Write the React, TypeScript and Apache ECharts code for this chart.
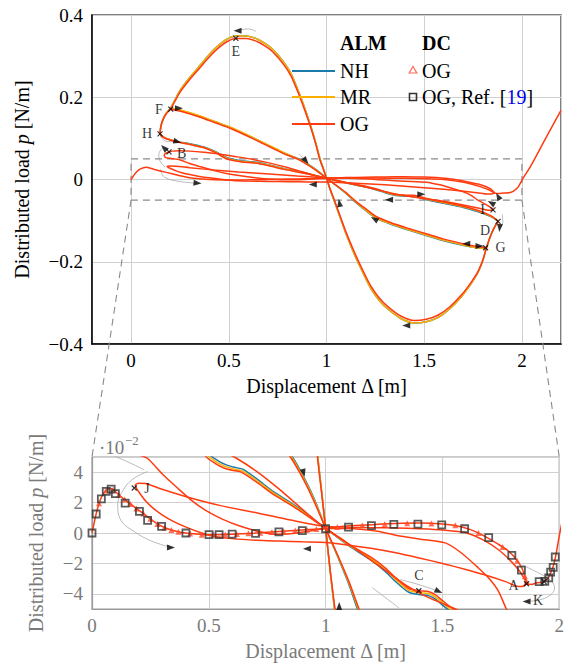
import React, { useEffect, useRef } from "react";
import * as echarts from "echarts";

const FONT = "Liberation Serif";

// ---- data: displacement Δ [m], distributed load p [N/m] ----
const primaryOG = [
  [0, 0], [0.02, 0.014], [0.04, 0.0235], [0.06, 0.028], [0.08, 0.0295], [0.1, 0.0272], [0.12, 0.0245],
  [0.14, 0.022], [0.17, 0.0185], [0.2, 0.015], [0.24, 0.0105], [0.28, 0.006], [0.32, 0.003], [0.36, 0.0012],
  [0.4, 0], [0.5, -0.0012], [0.6, -0.0008], [0.7, 0], [0.8, 0.001], [0.9, 0.002], [1.0, 0.003], [1.1, 0.0047],
  [1.2, 0.0055], [1.3, 0.0062], [1.4, 0.0065], [1.5, 0.006], [1.56, 0.0048], [1.62, 0.0022], [1.68, -0.002],
  [1.74, -0.0075], [1.78, -0.0115], [1.8, -0.0145], [1.82, -0.0182], [1.84, -0.023], [1.853, -0.0285],
  [1.862, -0.033], [1.88, -0.0338], [1.905, -0.0328], [1.935, -0.032], [1.953, -0.0295], [1.965, -0.0255],
  [1.975, -0.0215], [1.985, -0.015], [2.0, -0.002], [2.05, 0.037], [2.1, 0.081], [2.15, 0.125], [2.2, 0.168],
];

const dcOG = [
  [0.03, 0.0195], [0.06, 0.028], [0.09, 0.0285], [0.115, 0.025], [0.14, 0.022], [0.165, 0.019], [0.19, 0.0162],
  [0.22, 0.0128], [0.25, 0.0094], [0.28, 0.006], [0.31, 0.0036], [0.34, 0.002], [0.37, 0.0009], [0.42, -0.0004],
  [0.47, -0.0011], [0.52, -0.0012], [0.57, -0.001], [0.62, -0.0007], [0.67, -0.0002], [0.72, 0.0002],
  [0.77, 0.0007], [0.82, 0.0012], [0.87, 0.0017], [0.92, 0.0022], [0.96, 0.0026], [1.05, 0.004], [1.157, 0.0051],
  [1.253, 0.0059], [1.349, 0.0064], [1.453, 0.0063], [1.555, 0.0051], [1.654, 0.0], [1.758, -0.0092],
  [1.82, -0.0182], [1.853, -0.0285], [1.86, -0.032],
];

const dcRef = [
  [0, 0], [0.018, 0.0125], [0.04, 0.0224], [0.061, 0.0274], [0.082, 0.0289], [0.1, 0.0259], [0.142, 0.0197],
  [0.203, 0.0142], [0.238, 0.0083], [0.298, 0.0044], [0.402, 0.0], [0.501, -0.0011], [0.544, -0.0011],
  [0.6, -0.0007], [0.7, -0.0003], [0.8, 0.0007], [0.9, 0.0015], [1.0, 0.0028], [1.098, 0.0039], [1.196, 0.0048],
  [1.292, 0.0057], [1.395, 0.0059], [1.497, 0.0053], [1.595, 0.0028], [1.698, -0.0031], [1.797, -0.0147],
  [1.838, -0.0244], [1.914, -0.032], [1.938, -0.0318], [1.955, -0.0295], [1.963, -0.0257], [1.974, -0.0226],
  [1.983, -0.0158],
];

const loopA_OG = [
  [1.862, -0.033], [1.845, -0.035], [1.825, -0.0352], [1.77, -0.032], [1.68, -0.0275], [1.6, -0.024],
  [1.5, -0.02], [1.4, -0.0164], [1.3, -0.013], [1.2, -0.0102], [1.1, -0.008], [1.0, -0.0062], [0.9, -0.0058],
  [0.8, -0.0053], [0.707, -0.0048], [0.6, -0.0037], [0.52, -0.0022], [0.46, 0.0005], [0.4, 0.004], [0.35, 0.0075],
  [0.3, 0.012], [0.26, 0.0165], [0.23, 0.021], [0.205, 0.026], [0.19, 0.0295], [0.185, 0.0315], [0.2, 0.0328],
  [0.23, 0.0325], [0.3, 0.0288], [0.423, 0.023], [0.55, 0.018], [0.707, 0.0132], [0.85, 0.0085], [0.99, 0.0045],
  [1.1, 0.0038], [1.2, 0.0035], [1.3, 0.0033], [1.4, 0.0028], [1.5, 0.002], [1.6, 0.0002], [1.68, -0.005],
  [1.74, -0.011], [1.79, -0.018], [1.83, -0.025], [1.85, -0.03], [1.862, -0.033],
];

const loopB_OG = [
  [0.194, 0.067], [0.178, 0.064], [0.17, 0.059], [0.175, 0.054], [0.2, 0.0515], [0.238, 0.049], [0.3, 0.039],
  [0.366, 0.0296], [0.43, 0.021], [0.494, 0.0142], [0.56, 0.009], [0.636, 0.0044], [0.7, 0.0015], [0.778, -0.0008],
  [0.85, -0.0005], [0.92, 0.001], [1.0, 0.003], [1.1, 0.003], [1.222, 0.0011], [1.3, -0.0015], [1.4, -0.004],
  [1.512, -0.0065], [1.58, -0.013], [1.654, -0.023], [1.7, -0.03], [1.74, -0.0384], [1.775, -0.0504],
  [1.805, -0.058], [1.83, -0.065], [1.852, -0.073], [1.835, -0.075], [1.8, -0.072], [1.75, -0.067],
  [1.68, -0.06], [1.6, -0.053], [1.51, -0.047], [1.42, -0.041], [1.34, -0.034], [1.25, -0.024], [1.15, -0.013],
  [1.07, -0.004], [1.0, 0.003], [0.92, 0.013], [0.8, 0.029], [0.7, 0.041], [0.62, 0.049], [0.545, 0.055],
  [0.45, 0.062], [0.373, 0.066], [0.3, 0.069], [0.25, 0.07], [0.21, 0.069], [0.194, 0.067],
];

const archE_OG = [
  [0.148, 0.111], [0.152, 0.128], [0.163, 0.145], [0.18, 0.16], [0.203, 0.172], [0.25, 0.212], [0.3, 0.243],
  [0.34, 0.265], [0.4, 0.298], [0.44, 0.317], [0.49, 0.335], [0.536, 0.343], [0.59, 0.343], [0.647, 0.335],
  [0.7, 0.32], [0.732, 0.307], [0.78, 0.28], [0.818, 0.252], [0.86, 0.205], [0.886, 0.172], [0.92, 0.125],
  [0.945, 0.086], [0.965, 0.05], [0.983, 0.026], [1.0, 0.003], [1.02, -0.025], [1.04, -0.05], [1.06, -0.076],
  [1.1, -0.128], [1.143, -0.177], [1.19, -0.225], [1.228, -0.26], [1.27, -0.288], [1.314, -0.309],
  [1.38, -0.332], [1.45, -0.343], [1.51, -0.34], [1.57, -0.33], [1.63, -0.31], [1.69, -0.281], [1.74, -0.25],
  [1.775, -0.224], [1.8, -0.196], [1.817, -0.168], [1.84, -0.136], [1.86, -0.116], [1.878, -0.102],
];
const archE_MR = [
  [0.148, 0.111], [0.152, 0.128], [0.163, 0.146], [0.18, 0.161], [0.203, 0.174], [0.25, 0.216], [0.3, 0.248],
  [0.34, 0.27], [0.4, 0.304], [0.44, 0.323], [0.49, 0.341], [0.536, 0.349], [0.59, 0.349], [0.647, 0.341],
  [0.7, 0.326], [0.732, 0.313], [0.78, 0.286], [0.818, 0.258], [0.86, 0.21], [0.886, 0.177], [0.92, 0.129],
  [0.945, 0.089], [0.966, 0.051], [0.984, 0.026], [1.0, 0.003], [1.02, -0.026], [1.039, -0.051], [1.06, -0.079],
  [1.1, -0.132], [1.143, -0.182], [1.19, -0.23], [1.228, -0.266], [1.27, -0.294], [1.314, -0.315],
  [1.38, -0.338], [1.45, -0.349], [1.51, -0.346], [1.57, -0.336], [1.63, -0.315], [1.69, -0.285], [1.74, -0.253],
  [1.775, -0.226], [1.8, -0.197], [1.817, -0.169], [1.84, -0.137], [1.86, -0.116], [1.878, -0.102],
];
const archE_NH = archE_MR;

const archF_OG = [
  [0.203, 0.171], [0.254, 0.166], [0.35, 0.152], [0.43, 0.138], [0.51, 0.124], [0.62, 0.1], [0.715, 0.078],
  [0.78, 0.063], [0.849, 0.05], [0.906, 0.035], [0.95, 0.021], [1.0, 0.003],
];
const archF_MR = [
  [0.203, 0.172], [0.254, 0.169], [0.35, 0.155], [0.43, 0.141], [0.51, 0.127], [0.62, 0.103], [0.715, 0.081],
  [0.78, 0.066], [0.852, 0.0505], [0.908, 0.0355], [0.952, 0.0215], [1.0, 0.003],
];
const archF_NH = [
  [0.203, 0.172], [0.254, 0.168], [0.35, 0.154], [0.43, 0.14], [0.51, 0.126], [0.62, 0.102], [0.715, 0.08],
  [0.78, 0.065], [0.856, 0.0505], [0.911, 0.0355], [0.954, 0.0215], [1.0, 0.003],
];

const archG_OG = [
  [1.0, 0.003], [1.05, -0.014], [1.1, -0.032], [1.143, -0.05], [1.2, -0.071], [1.254, -0.09], [1.33, -0.105],
  [1.42, -0.119], [1.51, -0.132], [1.6, -0.145], [1.715, -0.158], [1.77, -0.163], [1.814, -0.166],
];
const archG_MR = [
  [1.0, 0.003], [1.05, -0.0145], [1.1, -0.033], [1.14, -0.05], [1.2, -0.074], [1.254, -0.093], [1.33, -0.108],
  [1.42, -0.122], [1.51, -0.135], [1.6, -0.148], [1.715, -0.161], [1.77, -0.166], [1.814, -0.168],
];
const archG_NH = [
  [1.0, 0.003], [1.05, -0.015], [1.1, -0.034], [1.136, -0.05], [1.2, -0.075], [1.254, -0.094], [1.33, -0.109],
  [1.42, -0.123], [1.51, -0.136], [1.6, -0.149], [1.715, -0.162], [1.77, -0.166], [1.814, -0.168],
];

const branchH_OG = [
  [0.148, 0.111], [0.158, 0.105], [0.18, 0.099], [0.237, 0.091], [0.3, 0.085], [0.373, 0.077], [0.43, 0.066],
  [0.487, 0.0504], [0.53, 0.0455], [0.565, 0.0428], [0.6, 0.0413], [0.636, 0.0402], [0.7, 0.034],
  [0.778, 0.0252], [0.85, 0.0185], [0.92, 0.0115], [1.0, 0.003],
];
const branchH_MR = [
  [0.148, 0.111], [0.158, 0.106], [0.18, 0.1], [0.237, 0.092], [0.3, 0.086], [0.373, 0.078], [0.43, 0.067],
  [0.49, 0.052], [0.535, 0.0465], [0.57, 0.0438], [0.605, 0.0422], [0.64, 0.041], [0.7, 0.0352],
  [0.778, 0.0262], [0.85, 0.0193], [0.92, 0.012], [1.0, 0.003],
];
const branchH_NH = [
  [0.148, 0.111], [0.158, 0.106], [0.18, 0.1], [0.237, 0.092], [0.3, 0.087], [0.373, 0.079], [0.43, 0.068],
  [0.495, 0.0525], [0.54, 0.0475], [0.575, 0.0448], [0.61, 0.0432], [0.645, 0.042], [0.7, 0.0362],
  [0.778, 0.027], [0.85, 0.02], [0.92, 0.0125], [1.0, 0.003],
];

const branchD_OG = [
  [1.0, 0.003], [1.1, -0.0075], [1.2, -0.0165], [1.256, -0.023], [1.3, -0.0295], [1.356, -0.0365], [1.4, -0.038],
  [1.44, -0.0385], [1.469, -0.0406], [1.5, -0.0445], [1.54, -0.0493], [1.6, -0.055], [1.7, -0.065],
  [1.78, -0.076], [1.84, -0.088], [1.865, -0.096], [1.878, -0.102],
];
const branchD_MR = [
  [1.0, 0.003], [1.1, -0.008], [1.2, -0.0175], [1.256, -0.0242], [1.3, -0.0307], [1.356, -0.0378], [1.4, -0.0392],
  [1.44, -0.0398], [1.469, -0.042], [1.5, -0.046], [1.54, -0.0508], [1.6, -0.0565], [1.7, -0.0665],
  [1.78, -0.0775], [1.84, -0.089], [1.865, -0.0965], [1.878, -0.102],
];
const branchD_NH = [
  [1.0, 0.003], [1.1, -0.0085], [1.2, -0.0185], [1.256, -0.0254], [1.3, -0.032], [1.356, -0.039], [1.4, -0.0405],
  [1.44, -0.0412], [1.469, -0.0434], [1.5, -0.0475], [1.54, -0.0522], [1.6, -0.058], [1.7, -0.068],
  [1.78, -0.079], [1.84, -0.09], [1.865, -0.097], [1.878, -0.102],
];

const zoomBox = [[0, 0.05], [2, 0.05], [2, -0.05], [0, -0.05], [0, 0.05]];

// thin grey path-direction guides
const guidesTop = [
  [[0.64, 0.36], [0.6, 0.366], [0.55, 0.363]],
  [[0.15, 0.105], [0.17, 0.095], [0.2, 0.092], [0.237, 0.092]],
  [[0.175, 0.03], [0.148, 0.045], [0.142, 0.06], [0.152, 0.072], [0.168, 0.077]],
  [[0.15, 0.025], [0.17, 0.006], [0.25, -0.005], [0.34, -0.009]],
  [[0.86, 0.062], [0.88, 0.052], [0.895, 0.045]],
  [[1.9, -0.085], [1.902, -0.105], [1.886, -0.118]],
];
const guidesBot = [
  [[0.082, 0.0515], [0.15, 0.047], [0.224, 0.0416]],
  [[0.238, 0.0405], [0.18, 0.036], [0.139, 0.0296], [0.11, 0.0186], [0.125, 0.008], [0.18, 0.001], [0.25, -0.005], [0.338, -0.0095]],
  [[1.32, -0.0307], [1.4, -0.034], [1.484, -0.0384]],
  [[1.2, -0.036], [1.26, -0.043], [1.314, -0.0493]],
  [[1.84, -0.0209], [1.92, -0.027], [1.967, -0.0318], [1.98, -0.0362], [1.94, -0.0428], [1.86, -0.045]],
];

// labelled points
const topPointNames = ["E", "F", "H", "B", "I", "D", "G"];
const topPointXY = [[0.536, 0.343], [0.203, 0.171], [0.148, 0.111], [0.194, 0.067], [1.852, -0.074], [1.878, -0.102], [1.814, -0.166]];
const botPointNames = ["J", "C", "A", "K"];
const botPointXY = [[0.181, 0.0296], [1.399, -0.038], [1.86, -0.0334], [1.935, -0.032]];
const labelPos: Record<string, any> = {
  E: ["bottom", [0, -2]], F: ["left", [0, 0]], H: ["left", [0, 0]], B: ["right", [0, 2]], I: ["left", [0, 0]],
  D: ["left", [0, 9]], G: ["right", [2, 0]], J: ["right", [2, 0]], C: ["top", [0, 0]], A: ["left", [0, 2]],
  K: ["bottom", [-6, 4]],
};

// arrowheads: [Δ, p] and direction (deg)
const arrowsTop = [
  [0.545, 0.362], [0.245, 0.173], [0.237, 0.092], [0.168, 0.077], [0.34, -0.009], [0.895, 0.045], [0.93, -0.012],
  [1.32, -0.049], [1.485, -0.036], [1.066, -0.057], [1.245, -0.096], [1.715, -0.156], [1.783, -0.162],
  [1.843, -0.057], [1.878, -0.041], [1.886, -0.118], [1.408, -0.355],
];
const arrowsTopDir = [90, -90, -105, 45, -95, -140, 90, 90, -90, 10, 60, 90, -90, 60, 30, 175, 90];
const arrowsBot = [[0.338, -0.0095], [0.906, 0.0395], [0.92, -0.0103], [1.484, -0.0384], [1.86, -0.045], [1.058, -0.048]];
const arrowsBotDir = [-90, -165, 90, -115, 90, 0];

const COL: Record<string, string> = { NH: "#1a7aaa", MR: "#fbb000", OG: "#ff3b0f" };
const curveSets = [
  { model: "NH", curves: [archE_NH, archF_NH, archG_NH, branchH_NH, branchD_NH] },
  { model: "MR", curves: [archE_MR, archF_MR, archG_MR, branchH_MR, branchD_MR] },
  { model: "OG", curves: [primaryOG, loopA_OG, loopB_OG, archE_OG, archF_OG, archG_OG, branchH_OG, branchD_OG] },
];

const fmt = (v: number) => {
  const r = Math.round(v * 1000) / 1000;
  return r < 0 ? "\u2212" + String(Math.abs(r)) : String(r);
};

export default function App() {
  const ref = useRef<HTMLDivElement>(null);
  useEffect(() => {
    const chart = echarts.init(ref.current!, null, { renderer: "svg" });
    const scaleOf = [1, 100];
    const series: any[] = [];
    [0, 1].forEach((g) => {
      const k = scaleOf[g];
      const guides = g === 0 ? guidesTop : guidesBot;
      guides.forEach((c) =>
        series.push({
          type: "line", xAxisIndex: g, yAxisIndex: g, data: c.map(([x, y]) => [x, y * k]),
          showSymbol: false, symbol: "none", smooth: 0.4, silent: true, z: 1,
          lineStyle: { color: "#a8a8a8", width: 0.8 },
        })
      );
      curveSets.forEach((set) =>
        set.curves.forEach((c) =>
          series.push({
            type: "line", xAxisIndex: g, yAxisIndex: g, data: c.map(([x, y]) => [x, y * k]),
            showSymbol: false, symbol: "none", smooth: 0.25, silent: true, z: 2,
            lineStyle: { color: COL[set.model], width: 1.5 },
          })
        )
      );
      const pts = g === 0 ? topPointXY : botPointXY;
      const names = g === 0 ? topPointNames : botPointNames;
      series.push({
        type: "scatter", xAxisIndex: g, yAxisIndex: g, z: 7, silent: true,
        symbol: "path://M0,0L10,10M10,0L0,10", symbolSize: 5,
        itemStyle: { color: "none", borderColor: "#000", borderWidth: 1.2 },
        data: pts.map((p, i) => ({
          name: names[i], value: [p[0], p[1] * k],
          label: { show: true, position: labelPos[names[i]][0], offset: labelPos[names[i]][1] },
        })),
        label: { show: true, formatter: "{b}", fontFamily: FONT, fontSize: 14, color: "#000", distance: 3 },
      });
      const arr = g === 0 ? arrowsTop : arrowsBot;
      const dir = g === 0 ? arrowsTopDir : arrowsBotDir;
      series.push({
        type: "scatter", xAxisIndex: g, yAxisIndex: g, z: 6, silent: true,
        symbol: "triangle", symbolSize: [6, 8], itemStyle: { color: "#000" },
        data: arr.map((p, i) => ({ value: [p[0], p[1] * k], symbolRotate: dir[i] })),
      });
    });
    series.push({
      type: "line", xAxisIndex: 0, yAxisIndex: 0, data: zoomBox, showSymbol: false, symbol: "none", silent: true, z: 1,
      lineStyle: { color: "#8a8a8a", width: 1.2, type: [7, 5] },
    });
    series.push({
      type: "scatter", xAxisIndex: 1, yAxisIndex: 1, z: 4, silent: true, symbol: "triangle", symbolSize: 6,
      itemStyle: { color: "#ff4a2a" }, data: dcOG.map(([x, y]) => [x, y * 100]),
    });
    series.push({
      type: "scatter", xAxisIndex: 1, yAxisIndex: 1, z: 5, silent: true, symbol: "rect", symbolSize: 7,
      itemStyle: { color: "rgba(0,0,0,0)", borderColor: "#333", borderWidth: 1.8 },
      data: dcRef.map(([x, y]) => [x, y * 100]),
    });

    const tick = (c: string) => ({ fontFamily: FONT, fontSize: 19, color: c });
    const nm = (c: string) => ({ fontFamily: FONT, fontSize: 20, color: c });
    const gridLine = { show: true, lineStyle: { color: "#d0d0d0", width: 1 } };
    const option: any = {
      animation: false,
      backgroundColor: "#fff",
      textStyle: { fontFamily: FONT },
      grid: [
        { left: 92, top: 15, width: 469, height: 329, show: true, borderColor: "#555", borderWidth: 1.5 },
        { left: 92, top: 457, width: 469, height: 152, show: true, borderColor: "#9a9a9a", borderWidth: 1.2 },
      ],
      xAxis: [
        {
          type: "value", gridIndex: 0, min: -0.2, max: 2.2, splitNumber: 5,
          axisLine: { show: true, onZero: false, lineStyle: { color: "#000", width: 1.5 } },
          axisTick: { show: false }, splitLine: gridLine,
          axisLabel: { ...tick("#000"), margin: 7, showMinLabel: false, showMaxLabel: false, formatter: fmt },
          name: "Displacement Δ [m]", nameLocation: "middle", nameGap: 32, nameTextStyle: nm("#000"),
        },
        {
          type: "value", gridIndex: 1, min: 0, max: 2, interval: 0.5,
          axisLine: { show: true, onZero: false, lineStyle: { color: "#9a9a9a", width: 1.2 } },
          axisTick: { show: false }, splitLine: gridLine,
          axisLabel: { ...tick("#7a7a7a"), margin: 7, formatter: fmt },
          name: "Displacement Δ [m]", nameLocation: "middle", nameGap: 32, nameTextStyle: nm("#7a7a7a"),
        },
      ],
      yAxis: [
        {
          type: "value", gridIndex: 0, min: -0.4, max: 0.4, interval: 0.2,
          axisLine: { show: true, onZero: false, lineStyle: { color: "#000", width: 1.5 } },
          axisTick: { show: false }, splitLine: gridLine,
          axisLabel: { ...tick("#000"), margin: 9, formatter: fmt },
          name: "Distributed load {i|p} [N/m]", nameLocation: "middle", nameGap: 60,
          nameTextStyle: { ...nm("#000"), rich: { i: { fontFamily: FONT, fontSize: 20, fontStyle: "italic", color: "#000" } } },
        },
        {
          type: "value", gridIndex: 1, min: -5, max: 5, splitNumber: 5,
          axisLine: { show: true, onZero: false, lineStyle: { color: "#9a9a9a", width: 1.2 } },
          axisTick: { show: false }, splitLine: gridLine,
          axisLabel: { ...tick("#7a7a7a"), margin: 9, showMinLabel: false, showMaxLabel: false, formatter: fmt },
          name: "Distributed load {i|p} [N/m]", nameLocation: "middle", nameGap: 46,
          nameTextStyle: { ...nm("#7a7a7a"), rich: { i: { fontFamily: FONT, fontSize: 20, fontStyle: "italic", color: "#7a7a7a" } } },
        },
      ],
      series,
    };
    chart.setOption(option);

    const a = chart.convertToPixel({ gridIndex: 0 }, [0, -0.05]) as number[];
    const b = chart.convertToPixel({ gridIndex: 0 }, [2, -0.05]) as number[];
    const c = chart.convertToPixel({ gridIndex: 1 }, [0, 5]) as number[];
    const d = chart.convertToPixel({ gridIndex: 1 }, [2, 5]) as number[];
    const dash = { stroke: "#8a8a8a", lineWidth: 1.1, lineDash: [7, 5] };
    const lt = (x: number, y: number, text: string, extra: any = {}) => ({
      type: "text", z: 20,
      style: { x, y, text, font: `20px ${FONT}`, fill: "#000", verticalAlign: "middle", ...extra },
    });
    const seg = (y: number, color: string) => ({
      type: "line", z: 20, shape: { x1: 292, y1: y, x2: 335, y2: y }, style: { stroke: color, lineWidth: 2 },
    });
    chart.setOption({
      graphic: [
        { type: "line", z: 1, shape: { x1: a[0], y1: a[1], x2: c[0], y2: c[1] }, style: dash },
        { type: "line", z: 1, shape: { x1: b[0], y1: b[1], x2: d[0], y2: d[1] }, style: dash },
        lt(340, 43, "ALM", { font: `bold 20px ${FONT}` }),
        lt(422, 43, "DC", { font: `bold 20px ${FONT}` }),
        seg(71, COL.NH), lt(340, 71, "NH"),
        seg(97, COL.MR), lt(340, 97, "MR"),
        seg(124, COL.OG), lt(340, 124, "OG"),
        {
          type: "polygon", z: 20, shape: { points: [[413, 66.5], [416.8, 73], [409.2, 73]] },
          style: { fill: "none", stroke: "#ff6b55", lineWidth: 1.2 },
        },
        lt(422, 71, "OG"),
        { type: "rect", z: 20, shape: { x: 409.5, y: 93.5, width: 7, height: 7 }, style: { fill: "none", stroke: "#333", lineWidth: 1.6 } },
        lt(422, 97, "OG, Ref. [{b|19}]", {
          rich: { b: { font: `20px ${FONT}`, fill: "#0000ee" } },
        }),
        { type: "text", z: 20, style: { x: 99, y: 447, text: "·10", font: `19px ${FONT}`, fill: "#7a7a7a", verticalAlign: "middle" } },
        { type: "text", z: 20, style: { x: 125, y: 440, text: "\u22122", font: `13px ${FONT}`, fill: "#7a7a7a", verticalAlign: "middle" } },
      ],
    });
    return () => chart.dispose();
  }, []);
  return <div ref={ref} style={{ position: "fixed", left: 0, top: 0, width: 567, height: 668, background: "#fff" }} />;
}
